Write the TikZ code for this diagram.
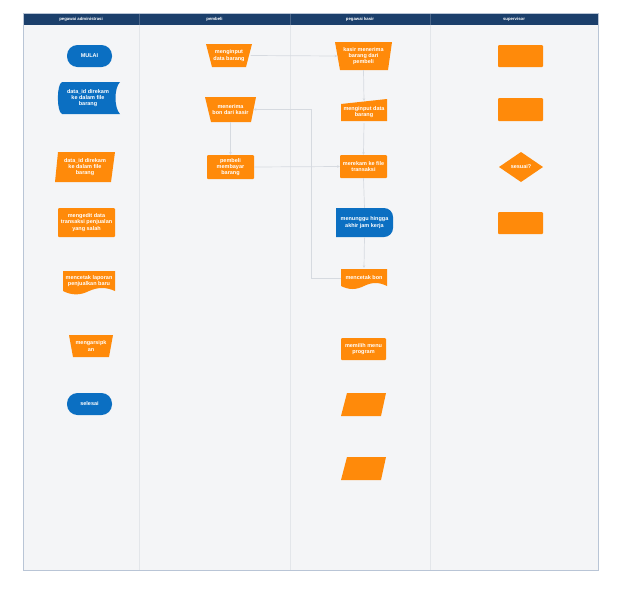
\documentclass[tikz,border=0pt]{standalone}
\usepackage{fontspec}
\setmainfont{Liberation Sans}
\usetikzlibrary{arrows.meta}
\definecolor{hdr}{HTML}{1B3F6B}
\definecolor{bgc}{HTML}{F4F5F7}
\definecolor{frm}{HTML}{B9C5D6}
\definecolor{dvd}{HTML}{E3E6EA}
\definecolor{org}{HTML}{FF8A0A}
\definecolor{blu}{HTML}{0B6FC2}
\definecolor{lin}{HTML}{D6DAE0}
\tikzset{
  txt/.style={text=white, font=\bfseries\fontsize{5.5}{6.4}\selectfont, align=center, inner sep=0pt},
  htxt/.style={text=white, font=\bfseries\fontsize{4.3}{5}\selectfont, inner sep=0pt},
  con/.style={draw=lin, line width=0.7pt},
  arr/.style={con, -{Stealth[length=2.6pt,width=2.6pt]}},
}
\begin{document}
\begin{tikzpicture}[x=1pt,y=-1pt]
\useasboundingbox (0,0) rectangle (622,590);
% frame
\fill[bgc] (23,13) rectangle (598,570);
\draw[dvd, line width=0.8pt] (139,25) -- (139,570) (290,25) -- (290,570) (430,25) -- (430,570);
\fill[hdr] (23,13) rectangle (598,25);
\draw[white!20!hdr, line width=0.6pt] (139,13) -- (139,25) (290,13) -- (290,25) (430,13) -- (430,25);
\draw[frm, line width=0.7pt] (23,13) rectangle (598,570);
\node[htxt] (h1) at (81,19) {pegawai administrasi};
\node[htxt] (h2) at (214.5,19) {pembeli};
\node[htxt] (h3) at (360,19) {pegawai kasir};
\node[htxt] (h4) at (514,19) {supervisor};

% column 1
\fill[blu, rounded corners=10.5] (67,45) rectangle (112,67);
\node[txt, minimum width=45, minimum height=22] (a1) at (89.5,56) {MULAI};
\fill[blu] (62,82) -- (120,82) .. controls (114,88) and (114,108) .. (120,114) -- (62,114) .. controls (56.5,112) and (56.5,84) .. (62,82) -- cycle;
\node[txt, minimum width=60, minimum height=32] (a2) at (88,98) {data\_id direkam\\ke dalam file\\barang};
\fill[org] (58,152) -- (115,152) -- (111,182) -- (55,182) -- cycle;
\node[txt, minimum width=58, minimum height=30] (a3) at (85,167) {data\_id direkam\\ke dalam file\\barang};
\fill[org, rounded corners=1] (58,208) rectangle (115,237);
\node[txt, minimum width=57, minimum height=29] (a4) at (86.5,222.5) {mengedit data\\transaksi penjualan\\yang salah};
\fill[org] (63,271) -- (115,271) -- (115,291) .. controls (106,287) and (98,287) .. (89,291) .. controls (80,295.5) and (72,295.5) .. (63,291) -- cycle;
\node[txt, minimum width=52, minimum height=20] (a5) at (89,281) {mencetak laporan\\penjualkan baru};
\fill[org] (69,335) -- (113,335) -- (109,357) -- (73,357) -- cycle;
\node[txt, minimum width=42, minimum height=22] (a6) at (91,346) {mengarsipk\\an};
\fill[blu, rounded corners=10.5] (67,393) rectangle (112,415);
\node[txt, minimum width=45, minimum height=22] (a7) at (89.5,404) {selesai};

% column 2
\fill[org] (206,44) -- (252,44) -- (246,67) -- (212,67) -- cycle;
\node[txt, minimum width=43, minimum height=23] (p1) at (229,55.5) {menginput\\data barang};
\fill[org] (205,97) -- (256,97) -- (251,122) -- (211,122) -- cycle;
\node[txt, minimum width=46, minimum height=25] (p2) at (230.5,109.5) {menerima\\bon dari kasir};
\fill[org, rounded corners=1] (207,155) rectangle (254,179);
\node[txt, minimum width=47, minimum height=24] (p3) at (230.5,167) {pembeli\\membayar\\barang};

% column 3
\fill[org] (335,42) -- (392,42) -- (388,70) -- (340,70) -- cycle;
\node[txt, minimum width=52, minimum height=28] (k1) at (363.5,56) {kasir menerima\\barang dari\\pembeli};
\fill[org] (341,104) -- (387,99) -- (387,121) -- (341,121) -- cycle;
\node[txt, minimum width=46, minimum height=22] (k2) at (364,112) {menginput data\\barang};
\fill[org, rounded corners=1] (340,155) rectangle (387,178);
\node[txt, minimum width=47, minimum height=23] (k3) at (363.5,166.5) {merekam ke file\\transaksi};
\fill[blu] (336,208) -- (384,208) .. controls (389,208) and (393,212) .. (393,217) -- (393,228) .. controls (393,233) and (389,237) .. (384,237) -- (336,237) -- cycle;
\node[txt, minimum width=57, minimum height=29] (k4) at (364.5,222.5) {menunggu hingga\\akhir jam kerja};
\fill[org] (341,269) -- (387,269) -- (387,286) .. controls (379,282) and (372,282) .. (364,286) .. controls (356,290) and (349,290) .. (341,286) -- cycle;
\node[txt, minimum width=46, minimum height=20] (k5) at (364,278) {mencetak bon};
\fill[org, rounded corners=1] (341,338) rectangle (386,360);
\node[txt, minimum width=45, minimum height=22] (k6) at (363.5,349) {memilih menu\\program};
\fill[org] (347,393) -- (386,393) -- (381,416) -- (341,416) -- cycle;
\node[minimum width=40, minimum height=23, inner sep=0pt] (k7) at (363.5,404.5) {};
\fill[org] (347,457) -- (386,457) -- (381,480) -- (341,480) -- cycle;
\node[minimum width=40, minimum height=23, inner sep=0pt] (k8) at (363.5,468.5) {};

% column 4
\fill[org, rounded corners=1] (498,45) rectangle (543,67);
\node[minimum width=45, minimum height=22, inner sep=0pt] (s1) at (520.5,56) {};
\fill[org, rounded corners=1] (498,98) rectangle (543,121);
\node[minimum width=45, minimum height=23, inner sep=0pt] (s2) at (520.5,109.5) {};
\fill[org] (521,152) -- (543,167) -- (521,182) -- (499,167) -- cycle;
\node[txt, minimum width=44, minimum height=30] (s3) at (521,167) {sesuai?};
\fill[org, rounded corners=1] (498,212) rectangle (543,234);
\node[minimum width=45, minimum height=22, inner sep=0pt] (s4) at (520.5,223) {};

% connectors
\coordinate (bend) at (311,0);
\draw[arr] (p1.east) -- (k1.west);
\draw[arr] (k1.south) -- (k2.north);
\draw[arr] (k2.south) -- (k3.north);
\draw[con] (k3.south) -- (k4.north);
\draw[arr] (k4.south) -- (k5.north);
\draw[arr] (k5.west) -- (k5.west -| bend) -- (p2.east -| bend) -- (p2.east);
\draw[arr] (p2.south) -- (p3.north);
\draw[arr] (p3.east) -- (k3.west);
\end{tikzpicture}
\end{document}
